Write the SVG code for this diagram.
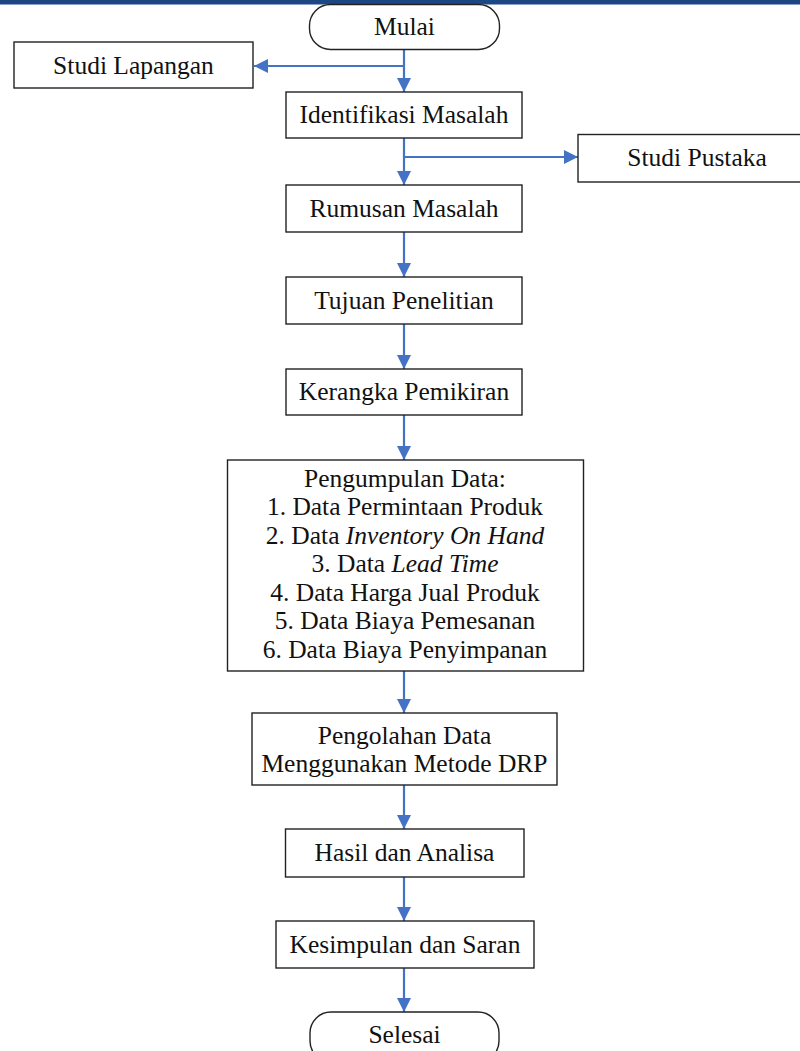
<svg xmlns="http://www.w3.org/2000/svg" width="800" height="1051" viewBox="0 0 800 1051">
<defs>
<style>
.box{fill:#fff;stroke:#222;stroke-width:1.4}
.t{font-family:"Liberation Serif","Times New Roman",serif;font-size:25.5px;fill:#111;text-anchor:middle}
.c{fill:none;stroke:#4472C4;stroke-width:2.2}
</style>
<marker id="ah" markerUnits="userSpaceOnUse" markerWidth="14" markerHeight="14" viewBox="0 0 14 14" refX="14" refY="7" orient="auto">
<path d="M0,0 L14,7 L0,14 Z" fill="#4472C4"/>
</marker>
</defs>
<rect x="0" y="0" width="800" height="4.5" fill="#1b4785"/>
<g id="connectors">
<line class="c" x1="404" y1="50" x2="404" y2="92" marker-end="url(#ah)"/>
<line class="c" x1="404" y1="66" x2="254" y2="66" marker-end="url(#ah)"/>
<line class="c" x1="404" y1="138" x2="404" y2="185" marker-end="url(#ah)"/>
<line class="c" x1="404" y1="157" x2="578" y2="157" marker-end="url(#ah)"/>
<line class="c" x1="404" y1="232" x2="404" y2="277" marker-end="url(#ah)"/>
<line class="c" x1="404" y1="324" x2="404" y2="369" marker-end="url(#ah)"/>
<line class="c" x1="404" y1="415" x2="404" y2="460" marker-end="url(#ah)"/>
<line class="c" x1="404" y1="671" x2="404" y2="713" marker-end="url(#ah)"/>
<line class="c" x1="404" y1="785" x2="404" y2="829" marker-end="url(#ah)"/>
<line class="c" x1="404" y1="877" x2="404" y2="921" marker-end="url(#ah)"/>
<line class="c" x1="404" y1="968" x2="404" y2="1012" marker-end="url(#ah)"/>
</g>
<g id="mulai"><rect class="box" x="309.5" y="4.5" width="190" height="45" rx="21"/><text class="t" x="404.5" y="35">Mulai</text></g>
<g id="studi-lapangan"><rect class="box" x="14" y="42" width="239" height="46"/><text class="t" x="133.5" y="74">Studi Lapangan</text></g>
<g id="identifikasi"><rect class="box" x="286" y="92" width="236" height="46"/><text class="t" x="404" y="123">Identifikasi Masalah</text></g>
<g id="studi-pustaka"><rect class="box" x="578" y="134.5" width="240" height="47.5"/><text class="t" x="697" y="166">Studi Pustaka</text></g>
<g id="rumusan"><rect class="box" x="286" y="185" width="236" height="47"/><text class="t" x="404" y="217">Rumusan Masalah</text></g>
<g id="tujuan"><rect class="box" x="286" y="277" width="236" height="47"/><text class="t" x="404" y="309">Tujuan Penelitian</text></g>
<g id="kerangka"><rect class="box" x="286" y="369" width="236" height="46"/><text class="t" x="404" y="400">Kerangka Pemikiran</text></g>
<g id="pengumpulan"><rect class="box" x="227.5" y="460" width="356" height="211"/>
<text class="t" x="405" y="486.5">Pengumpulan Data:</text>
<text class="t" x="405" y="515">1. Data Permintaan Produk</text>
<text class="t" x="405" y="543.5">2. Data <tspan font-style="italic">Inventory On Hand</tspan></text>
<text class="t" x="405" y="572">3. Data <tspan font-style="italic">Lead Time</tspan></text>
<text class="t" x="405" y="600.5">4. Data Harga Jual Produk</text>
<text class="t" x="405" y="629">5. Data Biaya Pemesanan</text>
<text class="t" x="405" y="657.5">6. Data Biaya Penyimpanan</text>
</g>
<g id="pengolahan"><rect class="box" x="252" y="713" width="305" height="72"/>
<text class="t" x="404.5" y="743.5">Pengolahan Data</text>
<text class="t" x="404.5" y="772">Menggunakan Metode DRP</text>
</g>
<g id="hasil"><rect class="box" x="285.5" y="829" width="238.5" height="48"/><text class="t" x="404.5" y="861">Hasil dan Analisa</text></g>
<g id="kesimpulan"><rect class="box" x="276" y="921" width="258" height="47"/><text class="t" x="405" y="953">Kesimpulan dan Saran</text></g>
<g id="selesai"><rect class="box" x="310" y="1012" width="189" height="50" rx="21"/><text class="t" x="404.5" y="1043">Selesai</text></g>
</svg>
